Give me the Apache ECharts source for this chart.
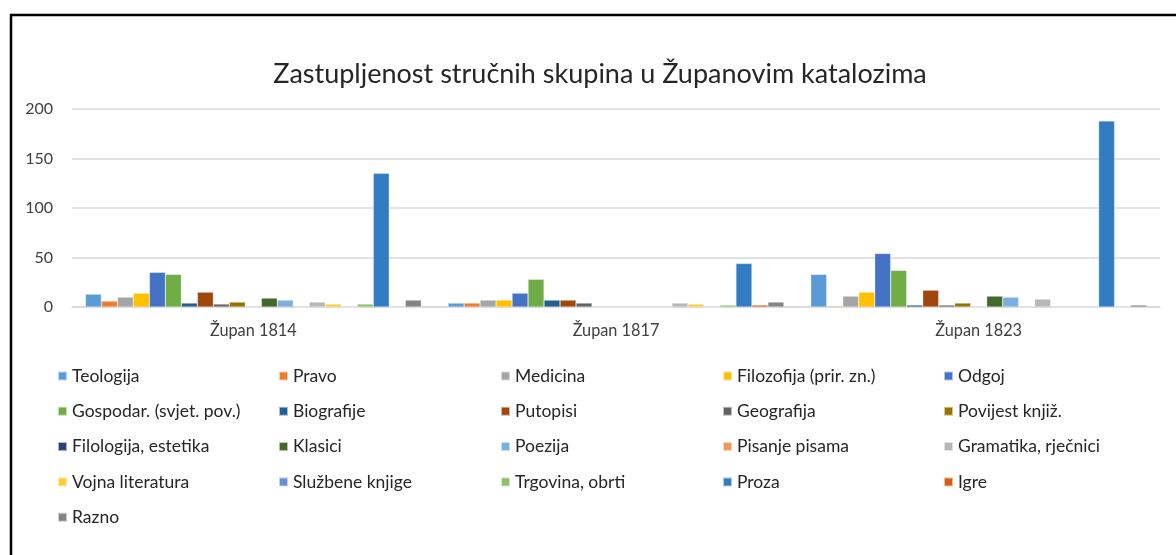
<!DOCTYPE html>
<html>
<head>
<meta charset="utf-8">
<script src="https://cdn.jsdelivr.net/npm/echarts@6/dist/echarts.min.js"></script>
<style>
  html, body { margin: 0; padding: 0; background: #fff; }
  #main { width: 1176px; height: 555px; }
</style>
</head>
<body>
<div id="main"></div>
<script>
const categories = ['Župan 1814', 'Župan 1817', 'Župan 1823'];

const seriesNames = [
    'Teologija', 'Pravo', 'Medicina', 'Filozofija (prir. zn.)', 'Odgoj',
    'Gospodar. (svjet. pov.)', 'Biografije', 'Putopisi', 'Geografija', 'Povijest knjiž.',
    'Filologija, estetika', 'Klasici', 'Poezija', 'Pisanje pisama', 'Gramatika, rječnici',
    'Vojna literatura', 'Službene knjige', 'Trgovina, obrti', 'Proza', 'Igre',
    'Razno'
];

// vrijednosti po katalogu, redom kao seriesNames
const values1814 = [13, 6, 10, 14, 35, 33, 4, 15, 3, 5, 0, 9, 7, 0, 5, 3, 0, 3, 135, 0, 7];
const values1817 = [4, 4, 7, 7, 14, 28, 7, 7, 4, 0, 0, 0, 0, 0, 4, 3, 0, 2, 44, 2, 5];
const values1823 = [33, 1, 11, 15, 54, 37, 2, 17, 2, 4, 0, 11, 10, 0, 8, 0, 0, 0, 188, 0, 2];

const yTicks = [0, 50, 100, 150, 200];

const colors = [
    '#5B9BD5', '#ED7D31', '#A5A5A5', '#FFC000', '#4472C4',
    '#70AD47', '#255E91', '#9E480E', '#636363', '#997300',
    '#264478', '#43682B', '#7CAFDD', '#F1975A', '#B7B7B7',
    '#FFCD33', '#698ED0', '#8CC168', '#327DC2', '#D26012',
    '#848484'
];

const chart = echarts.init(document.getElementById('main'));
const font = 'Lato, "Noto Sans", sans-serif';

const series = seriesNames.map((name, i) => ({
    name: name,
    type: 'bar',
    barGap: 0,
    barCategoryGap: '7.4%',
    itemStyle: { color: colors[i], borderColor: 'rgba(255,255,255,0.6)', borderWidth: 0.5 },
    data: [values1814[i], values1817[i], values1823[i]]
}));

// legenda u 5 stupaca
const colLefts = [57, 278, 500, 722, 943];
const legends = colLefts.map((left, c) => ({
    orient: 'vertical',
    left: left,
    top: 367,
    padding: 0,
    icon: 'rect',
    itemWidth: 9,
    itemHeight: 9,
    itemGap: 17.3,
    selectedMode: false,
    textStyle: { fontFamily: font, fontSize: 17.5, color: '#262626', lineHeight: 18 },
    data: seriesNames.filter((_, i) => i % 5 === c)
}));

chart.setOption({
    animation: false,
    color: colors,
    title: {
        text: 'Zastupljenost stručnih skupina u Županovim katalozima',
        left: 595,
        top: 56,
        textAlign: 'center',
        textStyle: { fontFamily: font, fontSize: 27, fontWeight: 'normal', color: '#262626' }
    },
    legend: legends,
    grid: { left: 72, right: 16, top: 109, bottom: 248 },
    xAxis: {
        type: 'category',
        data: categories,
        axisTick: { show: false },
        axisLine: { lineStyle: { color: '#d9d9d9', width: 1.5 } },
        axisLabel: { fontFamily: font, fontSize: 16.3, color: '#404040', margin: 16 }
    },
    yAxis: {
        type: 'value',
        min: yTicks[0],
        max: yTicks[yTicks.length - 1],
        interval: 50,
        axisLabel: { fontFamily: font, fontSize: 16, color: '#404040', margin: 19 },
        splitLine: { lineStyle: { color: '#d9d9d9', width: 1.5 } }
    },
    graphic: [{
        type: 'rect',
        shape: { x: 11, y: 15, width: 1200, height: 600 },
        style: { fill: 'none', stroke: '#000', lineWidth: 2.5 },
        silent: true
    }],
    series: series
});
</script>
</body>
</html>
